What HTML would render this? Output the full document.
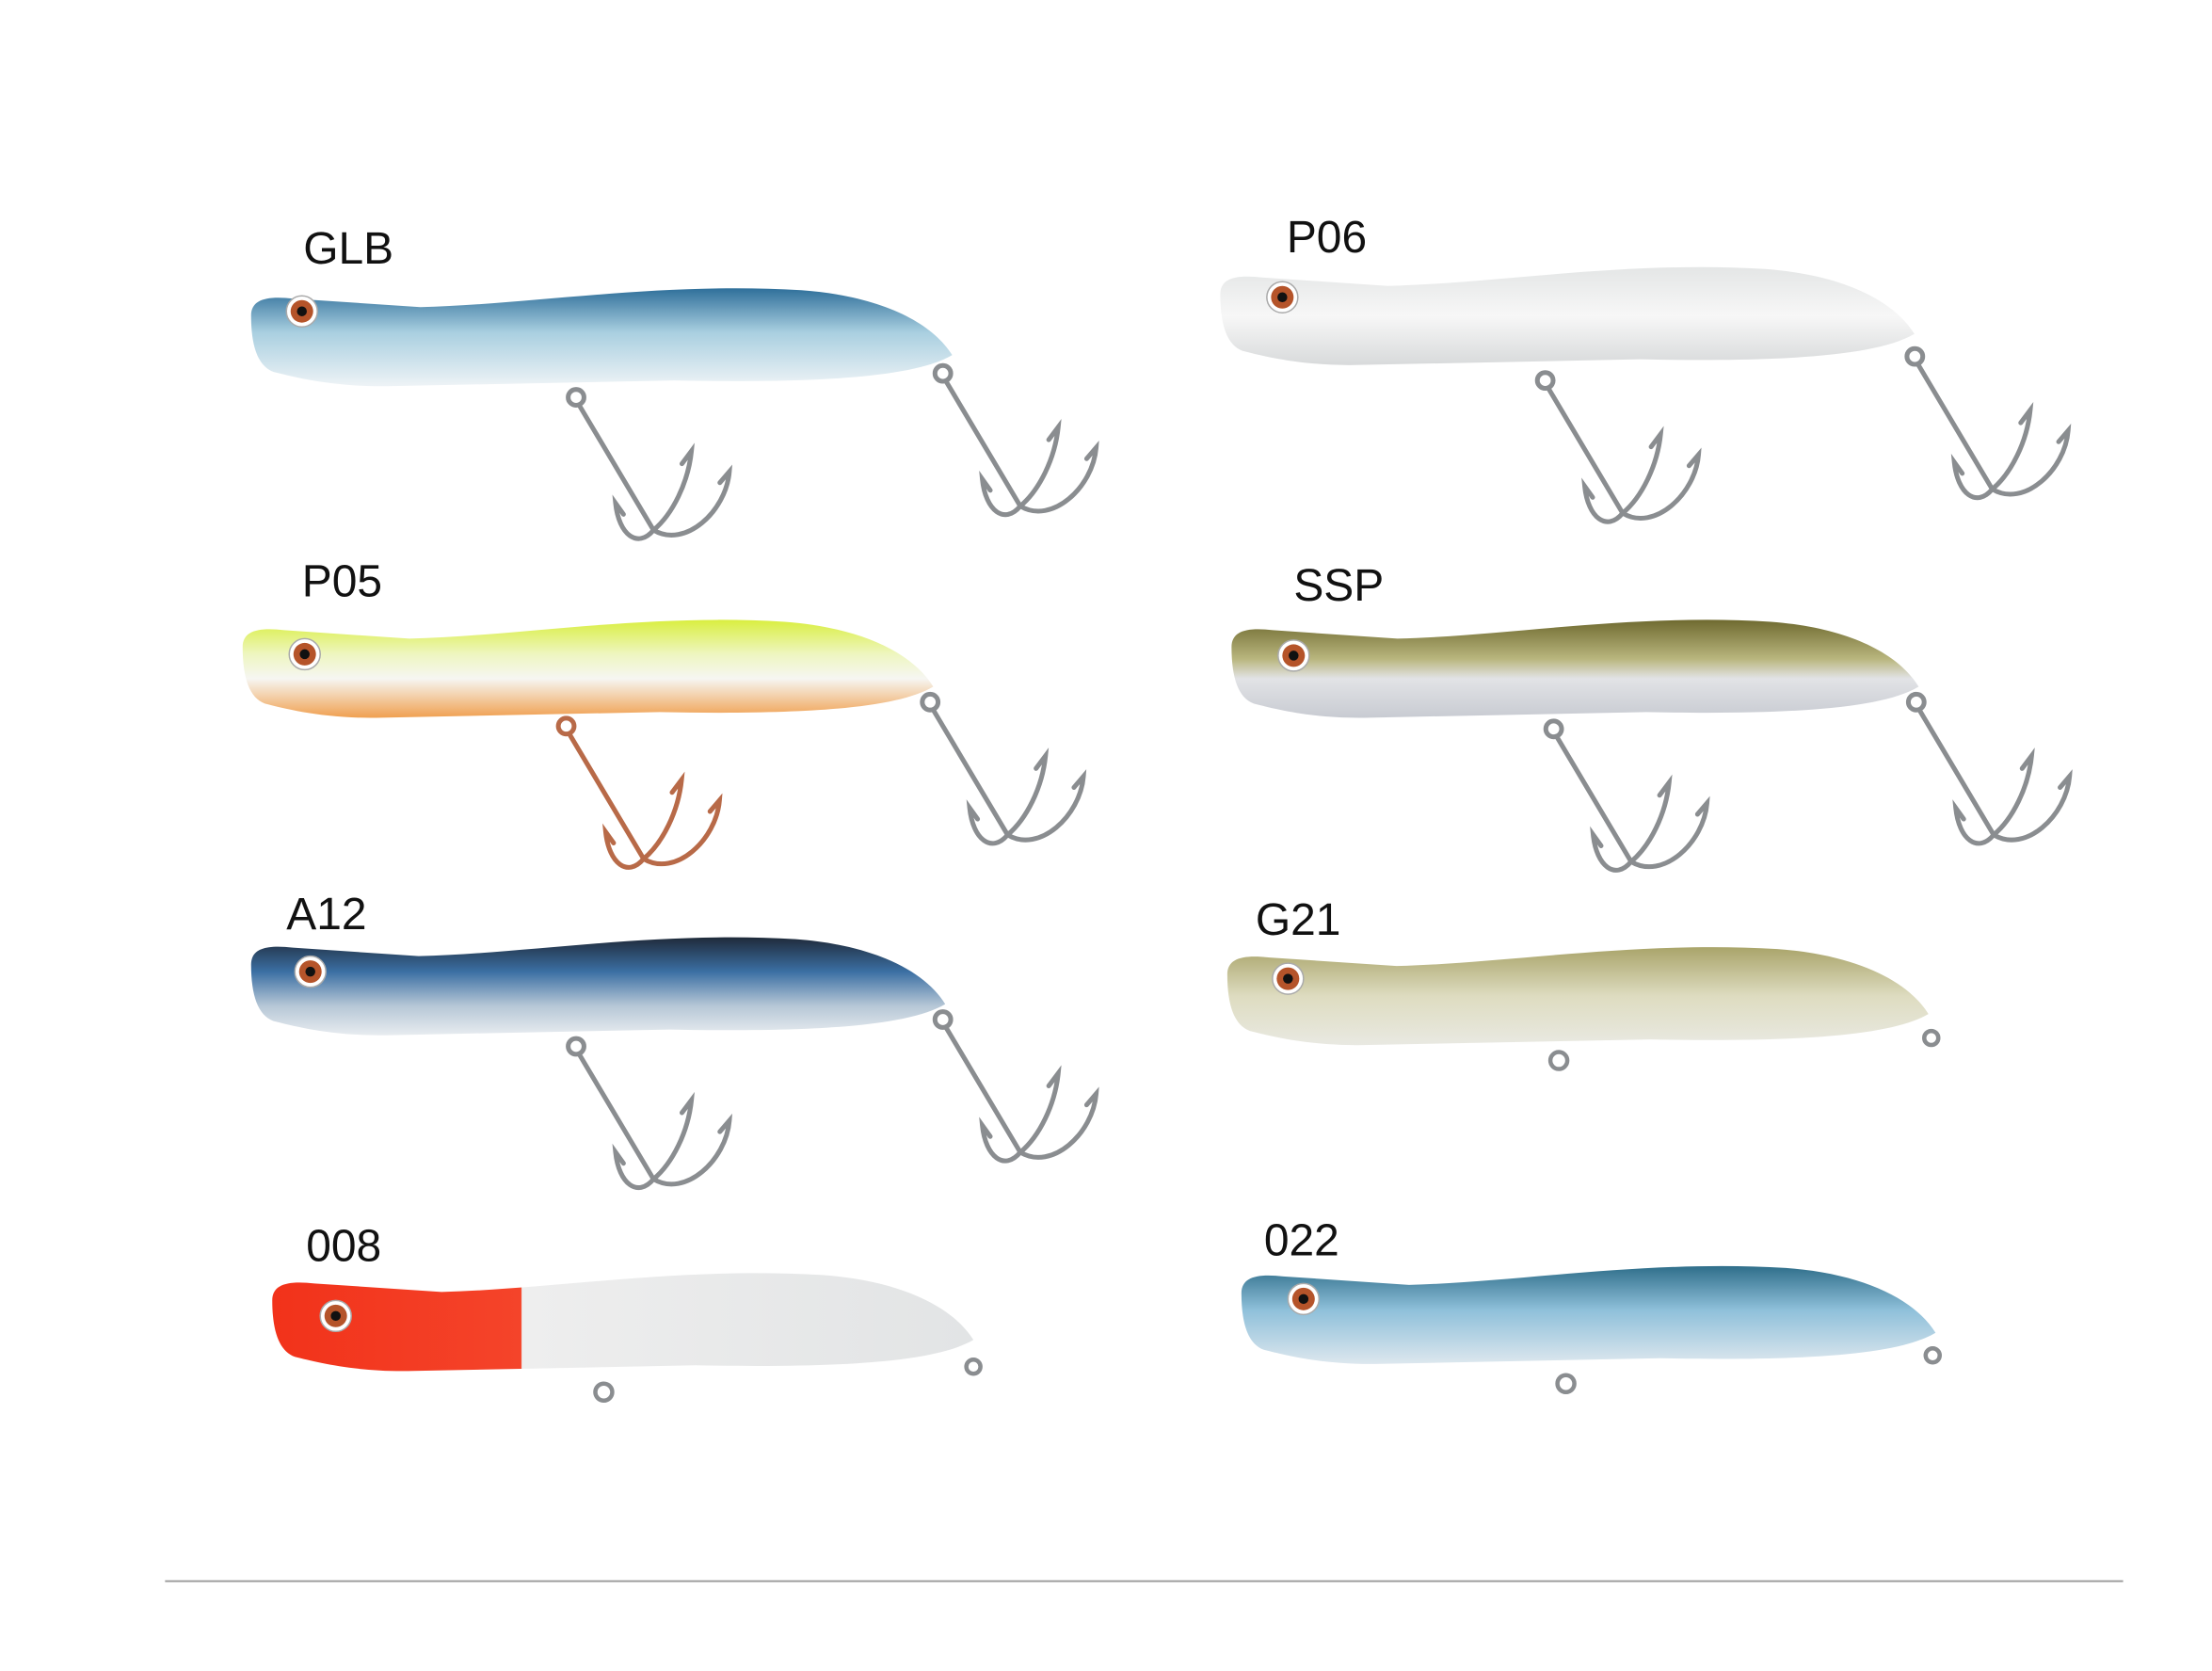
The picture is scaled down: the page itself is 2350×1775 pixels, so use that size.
<!DOCTYPE html>
<html><head><meta charset="utf-8">
<style>
html,body{margin:0;padding:0;background:#fff;}
svg{display:block;}
text{font-family:"Liberation Sans",sans-serif;font-size:32px;fill:#111;font-weight:500;}
</style></head>
<body>
<svg width="2350" height="1775" viewBox="0 0 1568 1183" xmlns="http://www.w3.org/2000/svg">
<defs>
<path id="body" d="M0,18 C0,6 12,4 30,6 L120,12 C200,10 290,-6 390,0 C445,4 482,22 497,46 C470,62 400,66 300,64 L100,68 C60,69 32,62 16,58 C5,54 0,40 0,18 Z"/>
<g id="hook0" fill="none" stroke-width="3" stroke-linecap="round">
<circle cx="3" cy="8" r="5"/>
<path d="M5,13 L52,92"/>
<path d="M52,92 C42,104 30,95 28,75 L33,82"/>
<path d="M52,92 C72,104 98,80 100,55 L94,62"/>
<path d="M52,92 C64,82 74,62 76,42 L70,50"/>
</g>
<g id="hook" stroke="#8a8d90"><use href="#hook0" transform="scale(1.12)"/></g>
<g id="hookR" stroke="#b86a48"><use href="#hook0" transform="scale(1.12)"/></g>
<g id="eye"><circle r="11" fill="#fff" stroke="#aaa" stroke-width="1"/><circle r="8" fill="#b5542a"/><circle r="3.5" fill="#111"/></g>
<linearGradient id="gBlue" x1="0" y1="0" x2="0" y2="1"><stop offset="0" stop-color="#2f6f9a"/><stop offset="0.45" stop-color="#a9cfe0"/><stop offset="1" stop-color="#eef3f6"/></linearGradient>
<linearGradient id="gWhite" x1="0" y1="0" x2="0" y2="1"><stop offset="0" stop-color="#e4e6e6"/><stop offset="0.5" stop-color="#f7f7f7"/><stop offset="1" stop-color="#d8dadb"/></linearGradient>
<linearGradient id="gYel" x1="0" y1="0" x2="0" y2="1"><stop offset="0" stop-color="#d9ee40"/><stop offset="0.35" stop-color="#eef6c0"/><stop offset="0.6" stop-color="#f6f6f2"/><stop offset="1" stop-color="#f0a050"/></linearGradient>
<linearGradient id="gOl" x1="0" y1="0" x2="0" y2="1"><stop offset="0" stop-color="#6f6a30"/><stop offset="0.4" stop-color="#b9b67e"/><stop offset="0.6" stop-color="#e2e3e6"/><stop offset="1" stop-color="#c8cbd2"/></linearGradient>
<linearGradient id="gDark" x1="0" y1="0" x2="0" y2="1"><stop offset="0" stop-color="#1f2a3a"/><stop offset="0.35" stop-color="#3b6fa3"/><stop offset="0.7" stop-color="#b6c7d6"/><stop offset="1" stop-color="#e8ecf0"/></linearGradient>
<linearGradient id="gG21" x1="0" y1="0" x2="0" y2="1"><stop offset="0" stop-color="#a9a46a"/><stop offset="0.5" stop-color="#dedcc0"/><stop offset="1" stop-color="#e9e9e2"/></linearGradient>
<linearGradient id="gRed" x1="0" y1="0" x2="1" y2="0"><stop offset="0" stop-color="#f2321a"/><stop offset="0.355" stop-color="#f4442a"/><stop offset="0.356" stop-color="#eeeeee"/><stop offset="1" stop-color="#e2e4e5"/></linearGradient>
<linearGradient id="gB2" x1="0" y1="0" x2="0" y2="1"><stop offset="0" stop-color="#2f6e8a"/><stop offset="0.45" stop-color="#8fc0da"/><stop offset="1" stop-color="#dde7ee"/></linearGradient>
</defs>

<text x="215" y="186">GLB</text>
<text x="912" y="178">P06</text>
<text x="214" y="422">P05</text>
<text x="917" y="425">SSP</text>
<text x="203" y="658">A12</text>
<text x="890" y="662">G21</text>
<text x="217" y="893">008</text>
<text x="896" y="889">022</text>

<use href="#hook" x="405" y="272"/>
<use href="#hook" x="665" y="255"/>
<use href="#body" transform="translate(178,205)" fill="url(#gBlue)"/>
<use href="#eye" x="214" y="220"/>

<use href="#hook" x="1092" y="260"/>
<use href="#hook" x="1354" y="243"/>
<use href="#body" transform="translate(865,190) scale(0.99,1)" fill="url(#gWhite)"/>
<use href="#eye" x="909" y="210"/>

<use href="#hookR" x="398" y="505"/>
<use href="#hook" x="656" y="488"/>
<use href="#body" transform="translate(172,440) scale(0.985,1)" fill="url(#gYel)"/>
<use href="#eye" x="216" y="463"/>

<use href="#hook" x="1098" y="507"/>
<use href="#hook" x="1355" y="488"/>
<use href="#body" transform="translate(873,440) scale(0.98,1)" fill="url(#gOl)"/>
<use href="#eye" x="917" y="464"/>

<use href="#hook" x="405" y="732"/>
<use href="#hook" x="665" y="713"/>
<use href="#body" transform="translate(178,665) scale(0.99,1)" fill="url(#gDark)"/>
<use href="#eye" x="220" y="688"/>

<circle cx="1105" cy="751" r="6" fill="none" stroke="#8a8d90" stroke-width="3"/>
<circle cx="1369" cy="735" r="5" fill="none" stroke="#8a8d90" stroke-width="3"/>
<use href="#body" transform="translate(870,672)" fill="url(#gG21)"/>
<use href="#eye" x="913" y="693"/>

<circle cx="428" cy="986" r="6" fill="none" stroke="#8a8d90" stroke-width="3"/>
<circle cx="690" cy="968" r="5" fill="none" stroke="#8a8d90" stroke-width="3"/>
<use href="#body" transform="translate(193,903)" fill="url(#gRed)"/>
<use href="#eye" x="238" y="932"/>

<circle cx="1110" cy="980" r="6" fill="none" stroke="#8a8d90" stroke-width="3"/>
<circle cx="1370" cy="960" r="5" fill="none" stroke="#8a8d90" stroke-width="3"/>
<use href="#body" transform="translate(880,898) scale(0.99,1)" fill="url(#gB2)"/>
<use href="#eye" x="924" y="920"/>

<line x1="117" y1="1120" x2="1505" y2="1120" stroke="#999" stroke-width="1.2"/>
</svg>
</body></html>
